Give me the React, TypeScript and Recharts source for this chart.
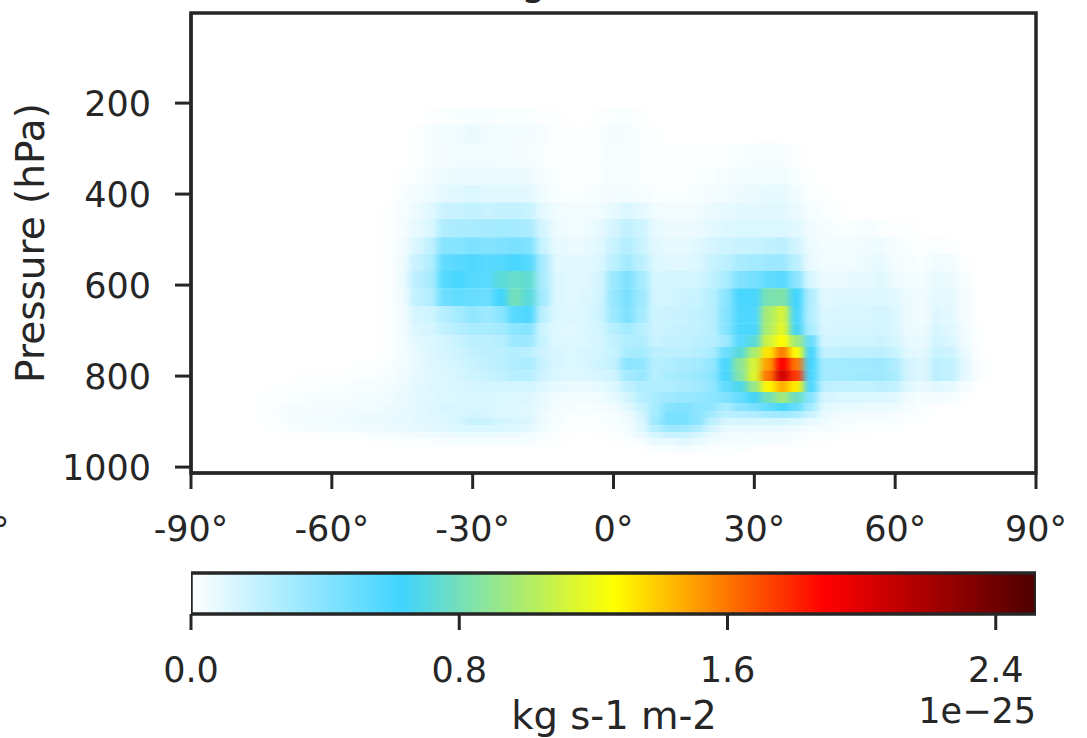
import React from 'react';
import { ScatterChart, Scatter, BarChart, Bar, XAxis, YAxis, ReferenceArea } from 'recharts';

const INK = '#262626';
const FONT = '"DejaVu Sans", sans-serif';

// plot box inside the 1087x738 page
const PLOT_LEFT = 191;
const PLOT_RIGHT = 1036;
const PLOT_TOP = 13;
const PLOT_BOTTOM = 473;
const MAP_HEIGHT = 560;

const LAT_MIN = -90;
const LAT_MAX = 90;
const P_MIN = 2;
const P_MAX = 1013;
const CBAR_MAX = 2.52;

const latTicks = [-90, -60, -30, 0, 30, 60, 90];
const pressureTicks = [200, 400, 600, 800, 1000];
const cbarTicks = [0, 0.8, 1.6, 2.4];

const latitudes = [
  -81, -78, -75, -72, -69, -66, -63, -60, -57, -54,
  -51, -48, -45, -42, -39, -36, -33, -30, -27, -24,
  -21, -18, -15, -12, -9, -6, -3, 0, 3, 6,
  9, 12, 15, 18, 21, 24, 27, 30, 33, 36,
  39, 42, 45, 48, 51, 54, 57, 60, 63, 66,
  69, 72, 75, 78, 81,
];

// edges of the model layers in hPa, top to bottom
const levelEdges = [
  211, 248, 288, 341, 380, 418, 455, 495, 532, 569, 607, 646, 684, 710,
  736, 760, 787, 811, 835, 859, 877, 892, 908, 923, 936, 952, 965, 978,
];

// flux per layer and latitude, in units of 1e-27 kg s-1 m-2
const fluxRows = [
  [0,0,0,0,0,0,0,0,0,0, 0,0,0,0,1,2,2,3,3,2, 2,2,1,1,0,0,1,2,2,1, 0,0,0,0,0,0,0,0,0,0, 0,0,0,0,0,0,0,0,0,0, 0,0,0,0,0],
  [0,0,0,0,0,0,0,0,0,0, 0,0,0,1,3,5,5,7,5,5, 4,4,3,1,1,1,2,4,3,2, 1,0,0,0,0,0,0,0,0,0, 0,0,0,0,0,0,0,0,0,0, 0,0,0,0,0],
  [0,0,0,0,0,0,0,0,0,0, 0,0,0,1,3,4,5,5,5,4, 4,3,2,1,1,1,2,3,3,2, 1,1,1,1,1,2,2,3,3,3, 1,0,0,0,0,0,0,0,0,0, 0,0,0,0,0],
  [0,0,0,0,0,0,0,0,0,0, 0,0,1,2,4,6,7,7,7,7, 7,6,3,2,1,1,2,3,3,2, 1,1,1,2,2,3,4,5,5,5, 2,1,0,0,0,0,0,0,0,0, 0,0,0,0,0],
  [0,0,0,0,0,0,0,0,0,0, 0,0,2,4,6,9,10,12,10,10, 10,9,5,2,2,2,3,4,4,3, 2,2,2,3,4,5,6,7,8,8, 5,2,1,0,0,0,0,0,0,0, 0,0,0,0,0],
  [0,0,0,0,0,0,0,0,0,0, 0,1,3,6,10,17,18,20,18,19, 20,18,9,5,4,4,5,8,12,9, 5,4,4,5,7,8,9,9,10,10, 7,3,2,1,0,0,0,0,0,0, 0,0,0,0,0],
  [0,0,0,0,0,0,0,0,0,0, 0,1,3,8,12,26,28,28,29,30, 30,28,14,6,5,5,8,14,20,16, 8,6,6,7,9,11,12,12,12,12, 10,5,3,2,2,3,2,1,1,0, 0,0,0,0,0],
  [0,0,0,0,0,0,0,0,0,0, 0,1,4,12,20,40,40,43,41,42, 44,42,18,8,7,7,10,18,25,18, 10,8,8,10,14,16,18,18,20,22, 15,6,4,4,4,5,6,3,2,1, 2,1,0,0,0],
  [0,0,0,0,0,0,0,0,0,0, 0,1,5,18,25,52,55,58,55,56, 60,56,28,10,9,9,12,22,30,22, 12,10,10,12,18,22,28,30,32,32, 22,7,5,5,5,6,8,4,3,2, 5,4,1,0,0],
  [0,0,0,0,0,0,0,0,0,0, 0,1,6,22,28,56,60,56,54,72, 76,74,28,12,10,10,14,32,42,30, 14,14,15,15,20,28,42,45,52,55, 38,13,7,7,8,8,10,6,4,4, 8,6,2,0,0],
  [0,0,0,0,0,0,0,0,0,0, 0,1,5,20,25,48,52,50,48,62, 80,72,30,12,10,11,15,34,44,32, 15,15,17,18,24,38,60,60,82,84, 62,26,10,11,11,11,12,10,6,5, 9,8,3,0,0],
  [0,0,0,0,0,0,0,0,0,0, 0,1,4,14,16,24,30,36,32,38, 55,58,22,12,11,12,16,32,42,30, 16,17,18,20,24,40,58,58,98,112, 60,25,12,13,13,13,15,12,6,5, 11,9,3,0,0],
  [0,0,0,0,0,0,0,0,0,0, 0,1,4,12,14,20,24,28,28,30, 38,40,16,11,10,12,15,24,30,24, 16,18,19,20,24,40,58,60,100,116, 65,28,13,14,14,14,15,12,7,6, 13,10,4,1,0],
  [0,0,0,0,0,0,0,0,0,0, 0,1,4,9,12,15,18,22,22,24, 32,32,18,11,11,12,14,20,26,26, 18,19,20,22,24,32,55,72,110,126, 95,50,15,16,16,16,17,14,8,7, 15,12,5,1,0],
  [0,0,0,0,0,0,0,0,0,0, 0,1,4,8,11,14,16,20,22,22, 25,22,16,13,12,13,15,18,28,30, 22,22,22,24,28,48,72,98,132,158, 125,60,20,21,22,22,22,18,10,9, 18,16,7,1,0],
  [0,0,0,0,0,0,0,0,0,1, 1,2,4,8,11,13,15,18,20,22, 26,28,18,13,12,13,16,20,38,36, 24,26,28,30,35,60,88,112,150,190, 160,62,30,30,31,31,32,26,14,11, 22,20,9,2,0],
  [0,0,0,0,0,1,1,1,1,2, 2,3,5,8,10,12,14,16,18,20, 24,24,16,12,11,12,14,16,30,34, 24,28,30,33,38,60,85,115,160,205, 175,60,30,30,31,32,32,28,14,11, 22,19,9,2,0],
  [0,0,0,1,1,1,2,2,2,3, 3,4,6,9,11,12,13,14,15,15, 15,15,11,8,7,7,8,12,20,26, 26,26,28,30,36,52,68,92,128,145, 130,58,22,20,20,20,22,20,10,7, 10,8,3,0,0],
  [0,0,1,1,2,2,3,3,3,4, 4,5,7,9,10,12,12,13,13,12, 12,11,8,5,4,4,5,8,14,24, 28,32,34,35,38,42,50,65,80,95, 78,40,14,12,12,12,12,10,5,3, 4,3,1,0,0],
  [0,0,1,2,3,3,4,4,4,5, 5,6,7,9,11,13,13,13,13,12, 11,10,7,4,3,2,3,5,10,18, 30,40,42,38,36,28,38,44,52,60, 50,30,10,8,8,7,7,6,3,2, 1,1,0,0,0],
  [0,0,1,2,4,4,4,4,5,6, 6,7,8,9,11,12,13,15,14,12, 12,10,6,3,2,2,2,3,6,14, 30,44,44,38,30,22,24,26,30,32, 28,18,8,5,5,4,4,3,2,1, 0,0,0,0,0],
  [0,0,1,2,3,4,5,5,6,6, 6,7,8,9,10,11,14,18,18,15, 14,12,6,3,2,1,2,3,5,12, 32,44,44,38,22,14,14,14,14,14, 12,8,6,3,3,2,2,2,1,1, 0,0,0,0,0],
  [0,0,0,1,2,3,3,4,4,5, 5,6,7,8,9,10,12,12,12,12, 11,9,5,2,1,1,1,2,4,10, 24,32,32,26,14,8,8,8,8,7, 6,4,3,2,2,1,1,1,0,0, 0,0,0,0,0],
  [0,0,0,0,1,1,1,2,2,2, 3,3,4,4,5,6,7,7,7,6, 6,5,3,1,1,0,1,1,3,7, 14,18,18,14,8,5,5,5,4,4, 3,2,2,1,1,1,0,0,0,0, 0,0,0,0,0],
  [0,0,0,0,0,0,0,0,0,0, 1,1,2,2,2,3,3,3,3,3, 3,3,2,1,0,0,0,1,1,3, 8,8,10,8,5,4,3,3,3,3, 2,1,1,0,0,0,0,0,0,0, 0,0,0,0,0],
  [0,0,0,0,0,0,0,0,0,0, 0,0,1,1,1,1,1,1,1,1, 1,1,1,0,0,0,0,0,1,1, 3,3,4,3,2,2,2,1,1,1, 1,0,0,0,0,0,0,0,0,0, 0,0,0,0,0],
  [0,0,0,0,0,0,0,0,0,0, 0,0,0,0,0,0,0,0,0,0, 0,0,0,0,0,0,0,0,0,0, 1,1,1,1,1,1,0,0,0,0, 0,0,0,0,0,0,0,0,0,0, 0,0,0,0,0],
];

const colorStops = [
  { at: 0, rgb: [255, 255, 255] },
  { at: 0.25, rgb: [64, 212, 255] },
  { at: 0.5, rgb: [255, 255, 0] },
  { at: 0.75, rgb: [255, 0, 0] },
  { at: 1, rgb: [77, 0, 0] },
];

const colorFor = (t: number) => {
  for (let i = 1; i < colorStops.length; i++) {
    const a = colorStops[i - 1];
    const b = colorStops[i];
    if (t <= b.at) {
      const f = (t - a.at) / (b.at - a.at);
      const c = a.rgb.map((v, k) => Math.round(v + (b.rgb[k] - v) * f));
      return `rgb(${c[0]},${c[1]},${c[2]})`;
    }
  }
  return 'rgb(77,0,0)';
};

const cells: { lat: number; pressure: number; dp: number; flux: number }[] = [];
fluxRows.forEach((row, r) => {
  row.forEach((flux, c) => {
    if (flux > 0) {
      cells.push({
        lat: latitudes[c],
        pressure: (levelEdges[r] + levelEdges[r + 1]) / 2,
        dp: levelEdges[r + 1] - levelEdges[r],
        flux,
      });
    }
  });
});

const cbarData = [{ name: 'flux', value: CBAR_MAX }];

const pxPerDeg = (PLOT_RIGHT - PLOT_LEFT) / (LAT_MAX - LAT_MIN);
const pxPerHpa = (PLOT_BOTTOM - PLOT_TOP) / (P_MAX - P_MIN);

const CellShape = (props: any) => {
  const { cx, cy, payload } = props;
  const w = 3 * pxPerDeg + 0.6;
  const h = payload.dp * pxPerHpa;
  return (
    <rect
      x={cx - w / 2}
      y={cy - h / 2}
      width={w}
      height={h + 0.3}
      fill={colorFor(payload.flux / 100 / CBAR_MAX)}
    />
  );
};

const tickStyle = { fill: INK, fontSize: 35, fontFamily: FONT };
const axisLine = { stroke: INK, strokeWidth: 3 };

export default function App() {
  return (
    <div style={{ position: 'absolute', left: 0, top: 0, width: 1087, height: 738, overflow: 'hidden', background: '#fff', fontFamily: FONT, color: INK }}>
      <style>{`.heat-cells { filter: url(#latBlur); }`}</style>
      {/* bits of the neighbouring title and panel that the crop cuts off */}
      <span style={{ position: 'absolute', left: 521, top: -40, fontSize: 39, lineHeight: '44px' }}>g</span>
      <span style={{ position: 'absolute', left: -8, top: 510, fontSize: 35, lineHeight: '40px' }}>°</span>

      <div style={{ position: 'absolute', left: 0, top: 0 }}>
        <ScatterChart
          width={1087}
          height={MAP_HEIGHT}
          margin={{ top: PLOT_TOP, right: 1087 - PLOT_RIGHT, bottom: 0, left: 0 }}
        >
          <defs>
            <filter id="latBlur" x="-5%" y="-5%" width="110%" height="110%" colorInterpolationFilters="sRGB">
              <feGaussianBlur stdDeviation="3.8 0" />
            </filter>
          </defs>
          <XAxis
            type="number"
            dataKey="lat"
            domain={[LAT_MIN, LAT_MAX]}
            ticks={latTicks}
            tickFormatter={(v: number) => `${v}°`}
            height={MAP_HEIGHT - PLOT_BOTTOM}
            tick={tickStyle}
            tickSize={16}
            tickMargin={27}
            tickLine={axisLine}
            axisLine={axisLine}
            interval={0}
          />
          <YAxis
            type="number"
            dataKey="pressure"
            reversed
            domain={[P_MIN, P_MAX]}
            ticks={pressureTicks}
            width={PLOT_LEFT}
            tick={tickStyle}
            tickSize={16}
            tickMargin={24}
            tickLine={axisLine}
            axisLine={axisLine}
            interval={0}
            label={{
              value: 'Pressure (hPa)',
              angle: -90,
              position: 'insideLeft',
              offset: 30,
              style: { textAnchor: 'middle', fill: INK, fontSize: 39, fontFamily: FONT },
            }}
          />
          <Scatter className="heat-cells" data={cells} shape={CellShape} isAnimationActive={false} />
          <ReferenceArea
            x1={LAT_MIN}
            x2={LAT_MAX}
            y1={P_MIN}
            y2={P_MAX}
            fill="none"
            stroke={INK}
            strokeWidth={3.5}
            ifOverflow="visible"
          />
        </ScatterChart>
      </div>

      <div style={{ position: 'absolute', left: 0, top: MAP_HEIGHT }}>
        <BarChart
          layout="vertical"
          width={1087}
          height={738 - MAP_HEIGHT}
          data={cbarData}
          barCategoryGap={0}
          margin={{ top: 13, right: 1087 - PLOT_RIGHT, bottom: 0, left: PLOT_LEFT }}
        >
          <defs>
            <linearGradient id="cbarFill" x1="0" y1="0" x2="1" y2="0">
              {colorStops.map(s => (
                <stop key={s.at} offset={s.at} stopColor={`rgb(${s.rgb.join(',')})`} />
              ))}
            </linearGradient>
          </defs>
          <XAxis
            type="number"
            domain={[0, CBAR_MAX]}
            ticks={cbarTicks}
            tickFormatter={(v: number) => v.toFixed(1)}
            height={738 - MAP_HEIGHT - 54}
            tick={tickStyle}
            tickSize={16}
            tickMargin={27}
            tickLine={axisLine}
            axisLine={false}
            interval={0}
            allowDataOverflow
          />
          <YAxis type="category" dataKey="name" hide />
          <Bar dataKey="value" fill="url(#cbarFill)" stroke={INK} strokeWidth={3.5} isAnimationActive={false} />
        </BarChart>
      </div>

      <span style={{ position: 'absolute', left: 614, top: 694, transform: 'translateX(-50%)', fontSize: 38.5, lineHeight: '44px', whiteSpace: 'nowrap' }}>kg s-1 m-2</span>
      <span style={{ position: 'absolute', right: 51, top: 691, fontSize: 35, lineHeight: '40px', whiteSpace: 'nowrap' }}>1e−25</span>
    </div>
  );
}
